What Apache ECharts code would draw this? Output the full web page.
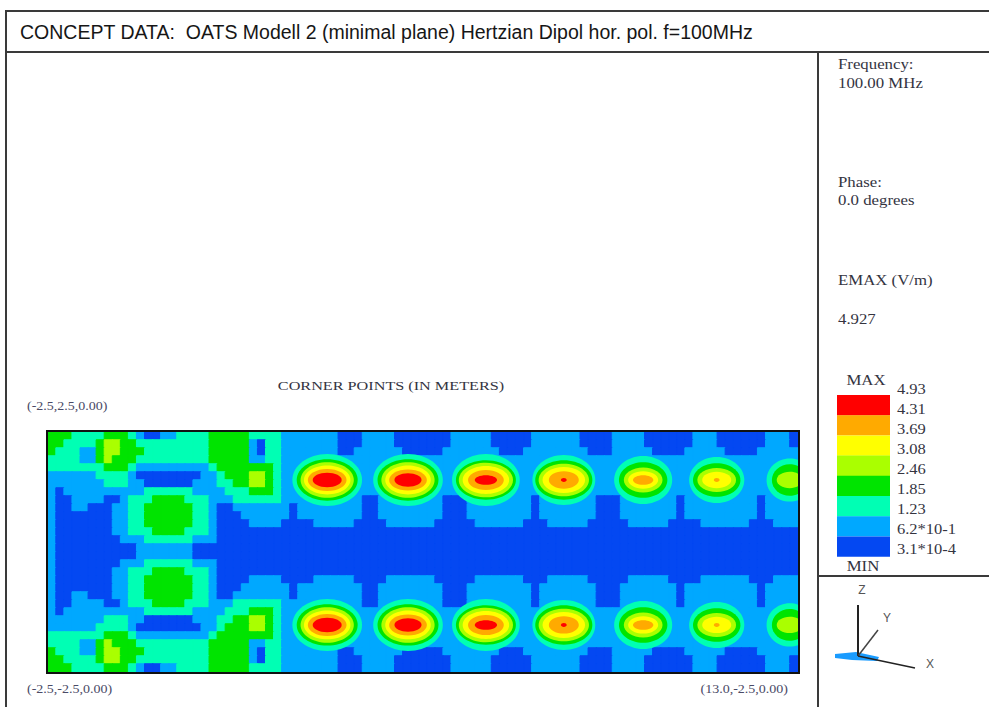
<!DOCTYPE html>
<html>
<head>
<meta charset="utf-8">
<title>OATS Modell 2 - Hertzian Dipol</title>
<script src="https://cdn.jsdelivr.net/npm/echarts@6/dist/echarts.min.js"></script>
<style>
  html, body { margin: 0; padding: 0; background: #fff; }
  #chart { width: 989px; height: 707px; }
</style>
</head>
<body>
<div id="chart"></div>
<script>
// contour classes (V/m) as printed next to the legend, low -> high
const levelBounds = [3.1e-4, 0.62, 1.23, 1.85, 2.46, 3.08, 3.69, 4.31, 4.93]
const levelLabels = ['3.1*10-4', '6.2*10-1', '1.23', '1.85', '2.46', '3.08', '3.69', '4.31', '4.93']

// corner points of the plane (m)
const planeX = [-2.5, 13.0]
const planeY = [-2.5, 2.5]
const cellsX = 93 // 1/6 m samples
const cellsY = 30

// field class of every sample, rows from y=+2.5 downwards, written as "class@firstColumn" runs
const fieldRows = [
  '3@0 2@3 3@7 2@10 1@11 0@12 1@14 2@16 3@20 2@25 1@29 0@36 1@39 0@43 1@50 0@55 1@60 0@66 1@70 0@74 1@80 0@83 1@89 0@92',
  '3@0 2@2 3@6 4@7 3@9 2@11 3@20 1@25 0@26 2@27 1@29 0@36 1@39 0@43 1@50 0@55 1@60 0@66 1@70 0@74 1@80 0@83 1@89 0@92',
  '3@0 2@1 1@4 3@6 4@7 3@9 2@12 3@20 1@25 0@26 2@27 1@29 0@36 1@38 0@44 1@49 0@56 1@59 0@67 1@70 0@75 1@79 0@84 1@88',
  '2@0 1@4 3@6 4@7 3@8 2@11 3@20 1@25 2@27 1@29',
  '2@0 3@7 2@10 1@11 2@20 3@21 2@28 1@29',
  '1@0 2@6 1@10 0@11 1@19 2@21 3@22 4@25 3@27 2@28 1@29',
  '1@0 2@7 1@10 0@12 1@18 2@21 3@23 4@25 3@27 2@28 1@29',
  '1@0 0@1 1@2 2@12 1@18 2@22 3@25 2@28 1@29',
  '1@0 0@1 1@3 0@7 1@9 2@10 3@13 2@17 1@20 2@23 1@29 0@39 1@41 0@49 1@52 0@60 1@61 0@68 1@71 0@78 1@79 0@88 1@89',
  '1@0 0@1 1@3 0@5 1@8 2@10 3@12 2@18 1@20 0@21 1@23 0@30 1@31 0@39 1@41 0@49 1@52 0@60 1@61 0@68 1@71 0@78 1@79 0@88 1@89',
  '1@0 0@1 1@8 2@10 3@12 2@18 1@20 0@21 1@24 0@30 1@31 0@39 1@41 0@49 1@52 0@60 1@61 0@68 1@71 0@78 1@79 0@88 1@89',
  '1@0 0@1 1@8 2@10 3@12 2@18 1@20 0@21 1@25 0@29 1@33 0@38 1@42 0@48 1@53 0@59 1@62 0@67 1@72 0@77 1@81 0@87 1@90',
  '1@0 0@1 1@8 2@10 3@13 2@17 1@20 0@21',
  '1@0 0@1 1@9 2@12 1@18 0@21',
  '1@0 0@1 1@11 0@18',
  '1@0 0@1 1@11 0@18',
  '1@0 0@1 1@9 2@12 1@18 0@21',
  '1@0 0@1 1@8 2@10 3@13 2@17 1@20 0@21',
  '1@0 0@1 1@8 2@10 3@12 2@18 1@20 0@21 1@25 0@29 1@33 0@38 1@42 0@48 1@53 0@59 1@62 0@67 1@72 0@77 1@81 0@87 1@90',
  '1@0 0@1 1@8 2@10 3@12 2@18 1@20 0@21 1@24 0@30 1@31 0@39 1@41 0@49 1@52 0@60 1@61 0@68 1@71 0@78 1@79 0@88 1@89',
  '1@0 0@1 1@3 0@5 1@8 2@10 3@12 2@18 1@20 0@21 1@23 0@30 1@31 0@39 1@41 0@49 1@52 0@60 1@61 0@68 1@71 0@78 1@79 0@88 1@89',
  '1@0 0@1 1@3 0@7 1@9 2@10 3@13 2@17 1@20 2@23 1@29 0@39 1@41 0@49 1@52 0@60 1@61 0@68 1@71 0@78 1@79 0@88 1@89',
  '1@0 0@1 1@2 2@12 1@18 2@22 3@25 2@28 1@29',
  '1@0 2@7 1@10 0@12 1@18 2@21 3@23 4@25 3@27 2@28 1@29',
  '1@0 2@6 1@10 0@11 1@19 2@21 3@22 4@25 3@27 2@28 1@29',
  '2@0 3@7 2@10 1@11 2@20 3@21 2@28 1@29',
  '2@0 1@4 3@6 4@7 3@8 2@11 3@20 1@25 2@27 1@29',
  '3@0 2@1 1@4 3@6 4@7 3@9 2@12 3@20 1@25 0@26 2@27 1@29 0@36 1@38 0@44 1@49 0@56 1@59 0@67 1@70 0@75 1@79 0@84 1@88',
  '3@0 2@2 3@6 4@7 3@9 2@11 3@20 1@25 0@26 2@27 1@29 0@36 1@39 0@43 1@50 0@55 1@60 0@66 1@70 0@74 1@80 0@83 1@89 0@92',
  '3@0 2@3 3@7 2@10 1@11 0@12 1@14 2@16 3@20 2@25 1@29 0@36 1@39 0@43 1@50 0@55 1@60 0@66 1@70 0@74 1@80 0@83 1@89 0@92'
]

// field lobes along the plane: centres (m)
const lobeX = [3.27, 4.94, 6.55, 8.16, 9.80, 11.32, 12.83]
const lobeY = [1.5, -1.52]
// contour half-width / half-height (m) of each lobe for the classes cyan .. red (0 = not reached)
const lobeHalfW = [
  [0.72, 0.63, 0.55, 0.48, 0.40, 0.30],
  [0.72, 0.63, 0.55, 0.47, 0.39, 0.28],
  [0.70, 0.62, 0.56, 0.48, 0.37, 0.23],
  [0.65, 0.59, 0.52, 0.44, 0.31, 0.06],
  [0.60, 0.50, 0.40, 0.31, 0.21, 0],
  [0.57, 0.49, 0.40, 0.30, 0.06, 0],
  [0.48, 0.37, 0.27, 0, 0, 0]
]
const lobeHalfH = [
  [0.54, 0.43, 0.37, 0.30, 0.23, 0.15],
  [0.54, 0.43, 0.37, 0.30, 0.22, 0.14],
  [0.54, 0.41, 0.36, 0.29, 0.21, 0.10],
  [0.52, 0.41, 0.34, 0.27, 0.18, 0.04],
  [0.50, 0.37, 0.26, 0.18, 0.10, 0],
  [0.48, 0.35, 0.25, 0.17, 0.04, 0],
  [0.45, 0.33, 0.17, 0, 0, 0]
]

const colors = ['#0448f2', '#00a8ff', '#00ffb4', '#00e400', '#aaff00', '#ffff00', '#ffaa00', '#ff0000']
const serif = '"Liberation Serif", "Times New Roman", serif'
const textColor = '#34343f'

function expandRow(row) {
  const cells = new Array(cellsX).fill(0)
  const runs = row.split(' ').map(t => t.split('@').map(Number))
  runs.forEach(([lv, start], k) => {
    const end = k + 1 < runs.length ? runs[k + 1][1] : cellsX
    for (let i = start; i < end; i++) cells[i] = lv
  })
  return cells
}

const levelMid = levelBounds.slice(0, -1).map((b, k) => (b + levelBounds[k + 1]) / 2)
const step = (planeX[1] - planeX[0]) / cellsX
const xCats = Array.from({ length: cellsX }, (_, i) => (planeX[0] + (i + 0.5) * step).toFixed(2))
const yCats = Array.from({ length: cellsY }, (_, j) => (planeY[1] - (j + 0.5) * step).toFixed(2))

const heatData = []
fieldRows.forEach((row, j) => {
  expandRow(row).forEach((lv, i) => {
    heatData.push({
      value: [i, j, levelMid[lv]],
      itemStyle: { color: colors[lv], borderColor: colors[lv] }
    })
  })
})

// outer contours first so the inner ones are painted on top
const lobeData = []
for (let k = 2; k < 8; k++) {
  lobeY.forEach(y => {
    lobeX.forEach((x, n) => {
      const w = lobeHalfW[n][k - 2]
      const h = lobeHalfH[n][k - 2]
      if (w > 0) lobeData.push([x, y, w, h, k])
    })
  })
}

function txt(text, x, y, size, opts) {
  const o = opts || {}
  return {
    type: 'text', x: x, y: y, z: 100,
    scaleX: o.scaleX || 1,
    style: {
      text: text,
      font: (o.font || size + 'px ' + serif),
      fill: o.color || textColor,
      align: o.align || 'left', textAlign: o.align || 'left',
      verticalAlign: 'middle', textVerticalAlign: 'middle'
    }
  }
}
function line(x1, y1, x2, y2, w, c) {
  return { type: 'line', z: 100, shape: { x1, y1, x2, y2 }, style: { stroke: c || '#3a3a3a', lineWidth: w || 2 } }
}

const graphics = [
  // frame
  line(5, 11, 989, 11),
  line(6, 11, 6, 707),
  line(5, 52, 989, 52),
  line(818, 52, 818, 707),
  line(818, 576, 989, 576),
  txt('CONCEPT DATA:  OATS Modell 2 (minimal plane) Hertzian Dipol hor. pol. f=100MHz', 20, 32, 19,
    { font: '19.5px "Liberation Sans", Arial, sans-serif', color: '#161616' }),
  // info panel
  txt('Frequency:', 838, 64, 15, { scaleX: 1.12 }),
  txt('100.00 MHz', 838, 83, 15, { scaleX: 1.12 }),
  txt('Phase:', 838, 182, 15, { scaleX: 1.12 }),
  txt('0.0 degrees', 838, 200, 15, { scaleX: 1.12 }),
  txt('EMAX (V/m)', 838, 280, 15, { scaleX: 1.12 }),
  txt('4.927', 838, 319, 15, { scaleX: 1.12 }),
  txt('MAX', 866, 380, 15, { scaleX: 1.12, align: 'center' }),
  txt('MIN', 863, 566, 15, { scaleX: 1.12, align: 'center' }),
  // plot captions
  txt('CORNER POINTS (IN METERS)', 391, 385, 13.5, { scaleX: 1.2, align: 'center' }),
  txt('(-2.5,2.5,0.00)', 27, 406, 12.3, { scaleX: 1.14, color: '#4a4a66' }),
  txt('(-2.5,-2.5,0.00)', 27, 689, 12.3, { scaleX: 1.14, color: '#4a4a66' }),
  txt('(13.0,-2.5,0.00)', 788, 689, 12.3, { scaleX: 1.14, color: '#4a4a66', align: 'right' }),
  // plot border
  { type: 'rect', z: 100, shape: { x: 47, y: 431, width: 752, height: 242 }, style: { fill: 'none', stroke: '#111', lineWidth: 2 } },
  // axis triad
  { type: 'polygon', z: 100, shape: { points: [[835, 654], [856, 652], [879, 657], [877, 661], [852, 660], [835, 658]] }, style: { fill: '#1a9cff' } },
  line(858, 605, 858, 656, 2, '#222'),
  line(858, 656, 878, 630, 1.5, '#444'),
  line(858, 656, 915, 668, 1.5, '#222'),
  txt('Z', 862, 590, 12, { font: '12px "Liberation Sans", Arial, sans-serif', align: 'center', color: '#555' }),
  txt('Y', 887, 618, 12, { font: '12px "Liberation Sans", Arial, sans-serif', align: 'center', color: '#555' }),
  txt('X', 930, 664, 12, { font: '12px "Liberation Sans", Arial, sans-serif', align: 'center', color: '#555' })
]

// legend boxes, highest class on top
for (let k = 0; k < 8; k++) {
  const lv = 7 - k
  graphics.push({ type: 'rect', z: 100, shape: { x: 837, y: 395 + k * 20.2, width: 53, height: 20.4 }, style: { fill: colors[lv] } })
}
levelLabels.slice().reverse().forEach((label, k) => {
  graphics.push(txt(label, 897, 389 + k * 20, 15, { scaleX: 1.1 }))
})

const chart = echarts.init(document.getElementById('chart'), null, { renderer: 'svg' })
chart.setOption({
  animation: false,
  backgroundColor: '#fff',
  grid: [
    { left: 48, top: 432, width: 750, height: 240 },
    { left: 48, top: 432, width: 750, height: 240 }
  ],
  xAxis: [
    { type: 'category', gridIndex: 0, data: xCats, show: false },
    { type: 'value', gridIndex: 1, min: planeX[0], max: planeX[1], show: false }
  ],
  yAxis: [
    { type: 'category', gridIndex: 0, data: yCats, inverse: true, show: false },
    { type: 'value', gridIndex: 1, min: planeY[0], max: planeY[1], show: false }
  ],
  series: [
    {
      type: 'heatmap',
      xAxisIndex: 0,
      yAxisIndex: 0,
      data: heatData,
      progressive: 0,
      itemStyle: { borderWidth: 1 },
      emphasis: { disabled: true },
      z: 2
    },
    {
      type: 'custom',
      xAxisIndex: 1,
      yAxisIndex: 1,
      clip: true,
      data: lobeData,
      z: 3,
      renderItem(params, api) {
        const c = api.coord([api.value(0), api.value(1)])
        const s = api.size([api.value(2), api.value(3)])
        return {
          type: 'ellipse',
          shape: { cx: c[0], cy: c[1], rx: s[0], ry: s[1] },
          style: { fill: colors[api.value(4)] }
        }
      }
    }
  ],
  graphic: graphics
})
</script>
</body>
</html>
